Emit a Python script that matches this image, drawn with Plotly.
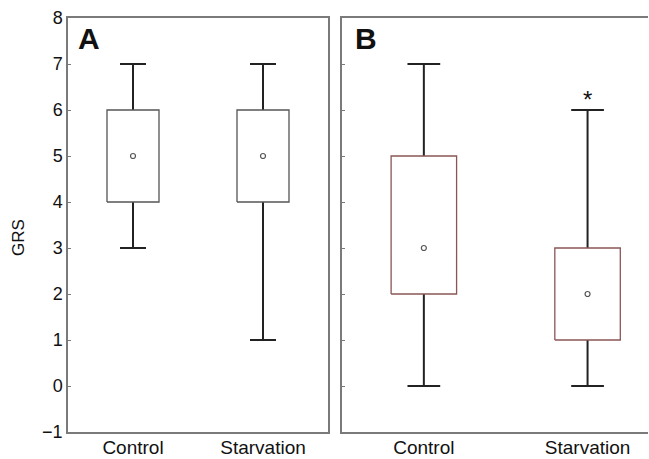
import plotly.graph_objects as go

# ---- data ----
groups = ["Control", "Starvation"]
positions = [1, 2]

A_lower = [3, 1]
A_q1 = [4, 4]
A_median = [5, 5]
A_q3 = [6, 6]
A_upper = [7, 7]

B_lower = [0, 0]
B_q1 = [2, 1]
B_median = [3, 2]
B_q3 = [5, 3]
B_upper = [7, 6]

panel_labels = ["A", "B"]
sig_mark = "*"
y_title = "GRS"

FONT = "Liberation Sans, Arial, sans-serif"
WHISKER_COLOR = "#222222"
AXIS_COLOR = "#7a7a7a"
CAP_HALF = 0.1
BOX_HALF = 0.2

fig = go.Figure()


def add_panel(xref, yref, lower, q1, med, q3, upper, edge_color):
    # whiskers and caps
    wx, wy = [], []
    for p, lo, a, b, hi in zip(positions, lower, q1, q3, upper):
        wx += [p, p, None, p - CAP_HALF, p + CAP_HALF, None,
               p, p, None, p - CAP_HALF, p + CAP_HALF, None]
        wy += [b, hi, None, hi, hi, None,
               a, lo, None, lo, lo, None]
    fig.add_trace(go.Scatter(
        x=wx, y=wy, mode="lines", line=dict(color=WHISKER_COLOR, width=2),
        xaxis=xref, yaxis=yref, showlegend=False, hoverinfo="skip"))
    # boxes (interquartile range)
    for p, a, b in zip(positions, q1, q3):
        fig.add_trace(go.Scatter(
            x=[p - BOX_HALF, p + BOX_HALF, p + BOX_HALF, p - BOX_HALF, p - BOX_HALF],
            y=[a, a, b, b, a], mode="lines", fill="toself", fillcolor="white",
            line=dict(color=edge_color, width=1.3),
            xaxis=xref, yaxis=yref, showlegend=False, hoverinfo="skip"))
    # median markers
    fig.add_trace(go.Scatter(
        x=positions, y=med, mode="markers",
        marker=dict(symbol="circle-open", size=5, color="#555555",
                    line=dict(width=1.2)),
        xaxis=xref, yaxis=yref, showlegend=False, hoverinfo="skip"))


add_panel("x", "y", A_lower, A_q1, A_median, A_q3, A_upper, "#555555")
add_panel("x2", "y2", B_lower, B_q1, B_median, B_q3, B_upper, "#8a5555")

W, H = 649, 459
ml, mt, mb = 68, 18, 27
plot_w = W - ml

common_x = dict(tickmode="array", tickvals=positions, ticktext=groups,
                ticks="", showgrid=False, zeroline=False, showline=True,
                linecolor=AXIS_COLOR, linewidth=1.5, mirror=True,
                automargin=False, ticklabelstandoff=-3,
                tickfont=dict(size=19, color="#111111", family=FONT))
common_y = dict(range=[-1, 8], dtick=1, tick0=0, ticks="inside", ticklen=3,
                tickcolor=AXIS_COLOR, showgrid=False, zeroline=False,
                showline=True, linecolor=AXIS_COLOR, linewidth=1.5,
                automargin=False,
                tickfont=dict(size=18, color="#111111", family=FONT))

fig.update_layout(
    width=W, height=H,
    margin=dict(l=ml, r=0, t=mt, b=mb),
    paper_bgcolor="white", plot_bgcolor="white",
    font=dict(family=FONT, color="#111111"),
    xaxis=dict(common_x, domain=[0, 260 / plot_w], range=[0.5, 2.5]),
    xaxis2=dict(common_x, domain=[274 / plot_w, 0.9985], range=[0.5, 2.37],
                anchor="y2"),
    yaxis=dict(common_y, mirror=True),
    yaxis2=dict(common_y, anchor="x2", showticklabels=False, mirror=False),
)

# y-axis title placed as rotated text left of the tick labels
fig.add_annotation(text=y_title, xref="paper", yref="y domain", x=-0.085, y=0.47,
                   xanchor="center", yanchor="middle", textangle=-90,
                   showarrow=False,
                   font=dict(size=17, family=FONT, color="#111111"))

for lab, xr in zip(panel_labels, ["x domain", "x2 domain"]):
    fig.add_annotation(text="<b>%s</b>" % lab, xref=xr, yref="y domain",
                       x=0.03 if lab == "A" else 0.035, y=0.995,
                       xanchor="left", yanchor="top", showarrow=False,
                       font=dict(size=30, family=FONT, color="#111111"))

fig.add_annotation(text=sig_mark, x=positions[1], y=B_upper[1], xref="x2",
                   yref="y2", showarrow=False, yanchor="bottom", yshift=-5,
                   font=dict(size=24, family=FONT, color="#111111"))

fig.write_html("out.html")
